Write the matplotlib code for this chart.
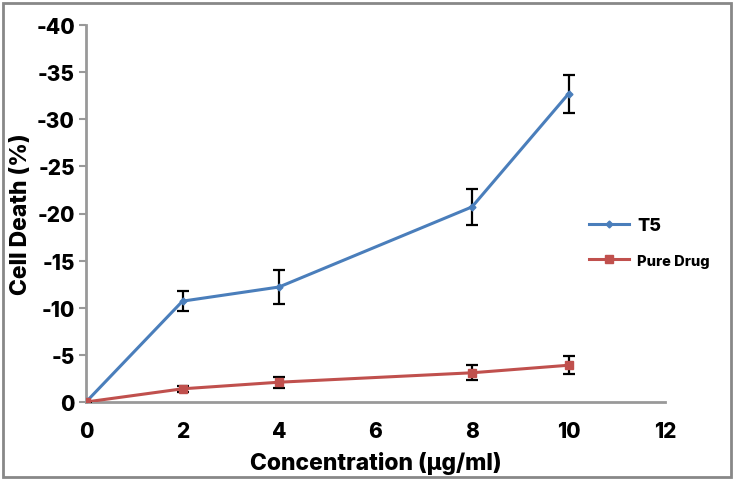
import matplotlib
matplotlib.use("Agg")
import matplotlib.pyplot as plt
from matplotlib.patches import Rectangle
from matplotlib.lines import Line2D

plt.rcParams['font.family'] = ['Inter', 'DejaVu Sans']
plt.rcParams['font.weight'] = 800

concentration = [0, 2, 4, 8, 10]
t5 = [0, -10.7, -12.2, -20.7, -32.7]
t5_err = [0, 1.05, 1.8, 1.9, 2.0]
pure = [0, -1.4, -2.1, -3.1, -3.9]
pure_err = [0, 0.35, 0.6, 0.8, 0.95]
xticks = [0, 2, 4, 6, 8, 10, 12]
yticks = [0, -5, -10, -15, -20, -25, -30, -35, -40]

fig = plt.figure(figsize=(7.35, 4.81), dpi=100)
ax = fig.add_axes([86/735, 1-403/481, (665-86)/735, (403-26)/481])

blue = '#4a7ebb'
red = '#c0504d'

ax.errorbar(concentration, t5, yerr=t5_err, color=blue, lw=2.2,
            marker='D', ms=3.5, ecolor='black', elinewidth=1.6,
            capsize=4, capthick=1.6, label='T5', zorder=3)
ax.errorbar(concentration, pure, yerr=pure_err, color=red, lw=2.2,
            marker='s', ms=6, ecolor='black', elinewidth=1.6,
            capsize=4, capthick=1.6, label='Pure Drug', zorder=3)

ax.set_xlim(0, 12)
ax.set_ylim(0, -40)
ax.set_xticks(xticks)
ax.set_yticks(yticks)
ax.set_xticklabels([str(v) for v in xticks], fontsize=15, fontweight=800)
ax.set_yticklabels([str(v) for v in yticks], fontsize=15, fontweight=800)
ax.tick_params(axis='x', length=0, pad=14)
ax.tick_params(axis='y', length=5, width=1.5, color='#999999', direction='out', pad=3)

for s in ['top', 'right']:
    ax.spines[s].set_visible(False)
for s in ['left', 'bottom']:
    ax.spines[s].set_color('#999999')
    ax.spines[s].set_linewidth(2)
ax.spines['left'].set_zorder(1)

ax.set_xlabel('Concentration (\u00b5g/ml)', fontsize=16.5, fontweight=800, labelpad=7)
ax.set_ylabel('Cell Death (%)', fontsize=16.5, fontweight=800, labelpad=3)

h1 = Line2D([], [], color=blue, lw=2.2, marker='D', ms=3.5)
h2 = Line2D([], [], color=red, lw=2.2, marker='s', ms=6)
leg = fig.legend([h1, h2], ['T5', 'Pure Drug'], loc='upper left',
                 bbox_to_anchor=(573/735, 1-202/481), frameon=False,
                 handlelength=2.2, handletextpad=0.45, labelspacing=1.0,
                 prop={'weight': 800, 'size': 13})
leg.get_texts()[1].set_fontsize(10.5)

fig.patches.append(Rectangle((3/735, 3/481), 1-7/735, 1-7/481, transform=fig.transFigure,
                             fill=False, edgecolor='#888888', lw=2))

fig.savefig('out.png', dpi=100)
